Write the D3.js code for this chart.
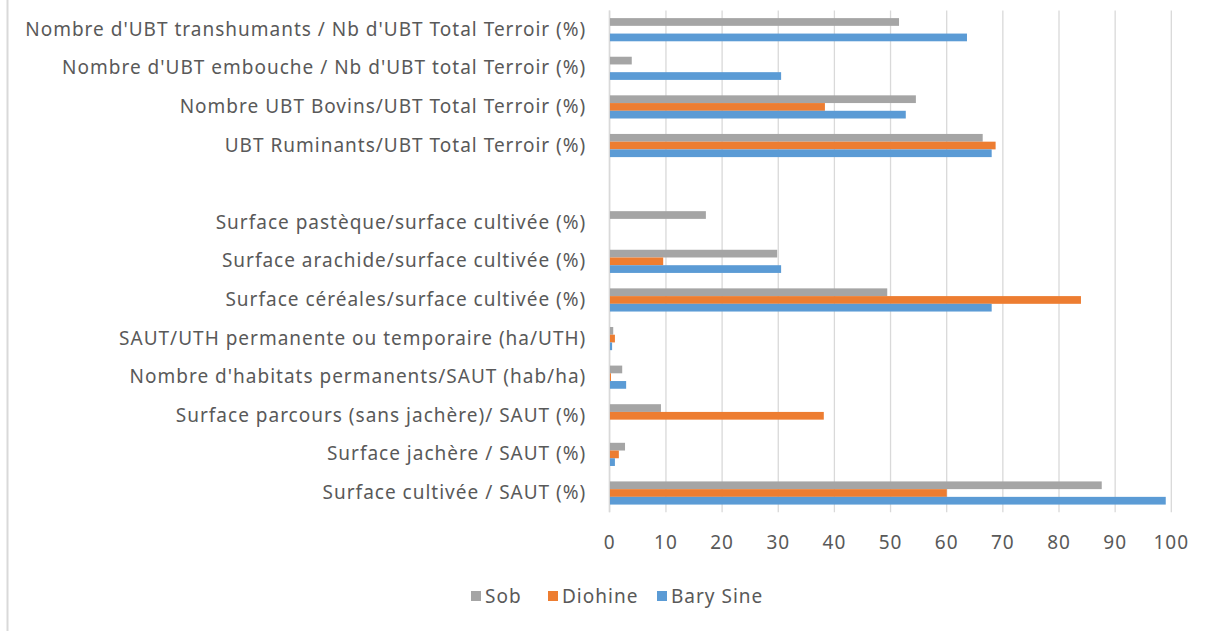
<!DOCTYPE html>
<html>
<head>
<meta charset="utf-8">
<script src="https://cdn.jsdelivr.net/npm/d3@7"></script>
<style>
body{margin:0;background:#fff;}
svg{display:block;font-family:"Noto Sans",sans-serif;}
</style>
</head>
<body>
<svg></svg>
<script>
// categories top -> bottom ("" = empty spacer row)
var categories = [
    "Nombre d'UBT transhumants / Nb d'UBT Total Terroir (%)",
    "Nombre d'UBT embouche / Nb d'UBT total Terroir (%)",
    "Nombre UBT Bovins/UBT Total Terroir (%)",
    "UBT Ruminants/UBT Total Terroir (%)",
    "",
    "Surface pastèque/surface cultivée (%)",
    "Surface arachide/surface cultivée (%)",
    "Surface céréales/surface cultivée (%)",
    "SAUT/UTH permanente ou temporaire (ha/UTH)",
    "Nombre d'habitats permanents/SAUT (hab/ha)",
    "Surface parcours (sans jachère)/ SAUT (%)",
    "Surface jachère / SAUT (%)",
    "Surface cultivée / SAUT (%)"
]
var series = ["Sob", "Diohine", "Bary Sine"]
var sob      = [51.6, 4.0, 54.6, 66.5, 0, 17.2, 29.9, 49.5, 0.7, 2.3, 9.2, 2.8, 87.7]
var diohine  = [0, 0, 38.4, 68.8, 0, 0, 9.6, 84.0, 1.0, 0.3, 38.2, 1.7, 60.1]
var barySine = [63.7, 30.6, 52.8, 68.1, 0, 0, 30.6, 68.1, 0.5, 3.0, 0, 1.0, 99.1]
var xTicks = [0,10,20,30,40,50,60,70,80,90,100]
var colors = ["#A5A5A5", "#ED7D31", "#5B9BD5"]

var values = [sob, diohine, barySine]

var width = 1217, height = 631
var fontSize = "19px"
var svg = d3.select("svg").attr("width", width).attr("height", height)

// left frame line
svg.append("line")
    .attr("x1", 7.5).attr("x2", 7.5).attr("y1", 0).attr("y2", height)
    .attr("stroke", "#D9D9D9").attr("stroke-width", 2)

var xScale = d3.scaleLinear().domain([0, 100]).range([609.3, 1170.8])
var yScale = d3.scaleBand()
    .domain(d3.range(categories.length))
    .range([10.4, 512.3])
    .paddingInner(0.4)
    .paddingOuter(0.2)
var ySub = d3.scaleBand().domain(series).range([0, yScale.bandwidth()])
var colorScale = d3.scaleOrdinal().domain(series).range(colors)

function styleText(sel){
    sel.attr("fill", "#595959")
        .style("font-size", fontSize)
        .style("letter-spacing", "1px")
        .style("font-family", "'Noto Sans', sans-serif")
}

// gridlines + tick labels
var xAxis = d3.axisBottom(xScale)
    .tickValues(xTicks)
    .tickSize(-(512.3 - 10.4))
    .tickPadding(23)
svg.append("g")
    .attr("transform", "translate(0,512.3)")
    .call(xAxis)
    .call(g => g.select(".domain").remove())
    .call(g => g.selectAll(".tick line").attr("stroke", "#D9D9D9").attr("stroke-width", 1.3))
    .call(g => g.selectAll(".tick text").call(styleText))

// category labels
var yAxis = d3.axisLeft(yScale)
    .tickFormat(i => categories[i])
    .tickSize(0)
    .tickPadding(23)
svg.append("g")
    .attr("transform", "translate(609.3,0)")
    .call(yAxis)
    .call(g => g.select(".domain").remove())
    .call(g => g.selectAll(".tick text").call(styleText))

// bars
var rows = categories.map(function(c, i){
    return series.map(function(s, j){ return {row: i, s: s, v: values[j][i]} })
})
svg.append("g")
    .selectAll("g")
    .data(rows)
    .enter()
    .append("g")
    .attr("transform", (d, i) => "translate(0," + yScale(i) + ")")
    .selectAll("rect")
    .data(d => d.filter(e => e.v > 0))
    .enter()
    .append("rect")
        .attr("x", xScale(0))
        .attr("y", d => ySub(d.s))
        .attr("height", ySub.bandwidth())
        .attr("width", d => xScale(d.v) - xScale(0))
        .attr("fill", d => colorScale(d.s))

// zero axis line
svg.append("line")
    .attr("x1", xScale(0)).attr("x2", xScale(0))
    .attr("y1", 10.4).attr("y2", 512.3)
    .attr("stroke", "#D9D9D9").attr("stroke-width", 1.3)

// legend
var legendX = [471, 548, 657]
var legend = svg.append("g")
    .selectAll("g")
    .data(series)
    .enter()
    .append("g")
    .attr("transform", (d, i) => "translate(" + legendX[i] + ",596)")
legend.append("rect")
    .attr("x", 0).attr("y", -5)
    .attr("width", 10).attr("height", 10)
    .attr("fill", d => colorScale(d))
legend.append("text")
    .attr("x", 14).attr("dy", "0.35em")
    .call(styleText)
    .text(d => d)
</script>
</body>
</html>
